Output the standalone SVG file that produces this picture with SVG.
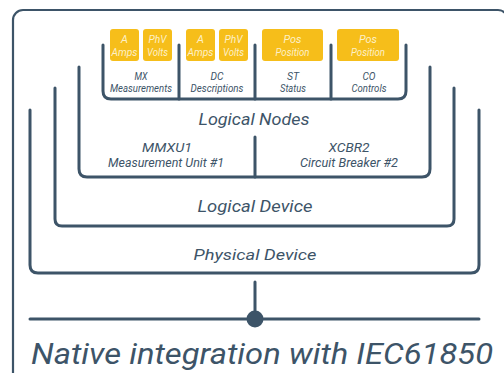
<svg xmlns="http://www.w3.org/2000/svg" width="504" height="373" viewBox="0 0 504 373">
<style>
.ln{fill:none;stroke:#3d5468;stroke-width:3;stroke-linecap:round;stroke-linejoin:round}
.fr{fill:none;stroke:#3d5468;stroke-width:2.2}
.t{font-family:Roboto,"Liberation Sans",sans-serif;font-style:italic;fill:#3d5468;text-anchor:middle}
.y{fill:#f6be1a}
.yt{font-family:Roboto,"Liberation Sans",sans-serif;font-style:italic;fill:#fdf0c8;text-anchor:middle;font-size:11px}
</style>
<rect width="504" height="373" fill="#ffffff"/>
<g id="frame">
<rect class="fr" x="13" y="10" width="495" height="420" rx="10"/>
</g>
<g id="physical-device">
<path class="ln" d="M30,110 V265 Q30,273 38,273 H471 Q479,273 479,265 V110"/>
<text class="t" x="255" y="260" font-size="15" textLength="123" lengthAdjust="spacingAndGlyphs">Physical Device</text>
</g>
<g id="logical-device">
<path class="ln" d="M55,88 V219 Q55,226 62,226 H447 Q454,226 454,219 V88"/>
<text class="t" x="255" y="212" font-size="16" textLength="115" lengthAdjust="spacingAndGlyphs">Logical Device</text>
</g>
<g id="logical-nodes">
<path class="ln" d="M79,67 V169 Q79,177 87,177 H422 Q430,177 430,169 V67"/>
<path class="ln" d="M255,137 V177"/>
<text class="t" x="254" y="125" font-size="16" textLength="111" lengthAdjust="spacingAndGlyphs">Logical Nodes</text>
<text class="t" x="167" y="152" font-size="13" textLength="50" lengthAdjust="spacingAndGlyphs">MMXU1</text>
<text class="t" x="166" y="167" font-size="12" textLength="116" lengthAdjust="spacingAndGlyphs">Measurement Unit #1</text>
<text class="t" x="349" y="152" font-size="13" textLength="41" lengthAdjust="spacingAndGlyphs">XCBR2</text>
<text class="t" x="349" y="167" font-size="12" textLength="98" lengthAdjust="spacingAndGlyphs">Circuit Breaker #2</text>
</g>
<g id="data-objects">
<path class="ln" d="M103,45 V91 Q103,99 111,99 H398 Q406,99 406,91 V45"/>
<path class="ln" d="M179,45 V99 M255,45 V99 M331,45 V99"/>
<text class="t" x="141" y="79.5" font-size="11.5" textLength="13" lengthAdjust="spacingAndGlyphs">MX</text>
<text class="t" x="141" y="91.5" font-size="10" textLength="62" lengthAdjust="spacingAndGlyphs">Measurements</text>
<text class="t" x="217" y="79.5" font-size="11.5" textLength="13" lengthAdjust="spacingAndGlyphs">DC</text>
<text class="t" x="217" y="91.5" font-size="10" textLength="53" lengthAdjust="spacingAndGlyphs">Descriptions</text>
<text class="t" x="293" y="79.5" font-size="11.5" textLength="12" lengthAdjust="spacingAndGlyphs">ST</text>
<text class="t" x="293" y="91.5" font-size="10" textLength="26" lengthAdjust="spacingAndGlyphs">Status</text>
<text class="t" x="369" y="79.5" font-size="11.5" textLength="13" lengthAdjust="spacingAndGlyphs">CO</text>
<text class="t" x="369" y="91.5" font-size="10" textLength="35" lengthAdjust="spacingAndGlyphs">Controls</text>
</g>
<g id="mx-a">
<rect class="y" x="110" y="29" width="29" height="32" rx="3"/>
<text class="yt" x="124.5" y="43">A</text>
<text class="yt" x="124.5" y="56" textLength="26" lengthAdjust="spacingAndGlyphs">Amps</text>
</g>
<g id="mx-phv">
<rect class="y" x="143" y="29" width="29" height="32" rx="3"/>
<text class="yt" x="157.5" y="43" textLength="18" lengthAdjust="spacingAndGlyphs">PhV</text>
<text class="yt" x="157.5" y="56" textLength="21" lengthAdjust="spacingAndGlyphs">Volts</text>
</g>
<g id="dc-a">
<rect class="y" x="186" y="29" width="29" height="32" rx="3"/>
<text class="yt" x="200.5" y="43">A</text>
<text class="yt" x="200.5" y="56" textLength="26" lengthAdjust="spacingAndGlyphs">Amps</text>
</g>
<g id="dc-phv">
<rect class="y" x="219" y="29" width="29" height="32" rx="3"/>
<text class="yt" x="233.5" y="43" textLength="18" lengthAdjust="spacingAndGlyphs">PhV</text>
<text class="yt" x="233.5" y="56" textLength="21" lengthAdjust="spacingAndGlyphs">Volts</text>
</g>
<g id="st-pos">
<rect class="y" x="262" y="29" width="61" height="32" rx="3"/>
<text class="yt" x="292.5" y="43" textLength="18" lengthAdjust="spacingAndGlyphs">Pos</text>
<text class="yt" x="292.5" y="56" textLength="34" lengthAdjust="spacingAndGlyphs">Position</text>
</g>
<g id="co-pos">
<rect class="y" x="337" y="29" width="62" height="32" rx="3"/>
<text class="yt" x="368" y="43" textLength="18" lengthAdjust="spacingAndGlyphs">Pos</text>
<text class="yt" x="368" y="56" textLength="34" lengthAdjust="spacingAndGlyphs">Position</text>
</g>
<g id="connectors">
<path class="ln" d="M255,282 V319"/>
<path class="ln" d="M30,319 H479"/>
<circle cx="255" cy="319" r="8.5" fill="#3d5468"/>
</g>
<g id="caption">
<text class="t" x="262" y="364" font-size="30" textLength="462" lengthAdjust="spacingAndGlyphs">Native integration with IEC61850</text>
</g>
</svg>
